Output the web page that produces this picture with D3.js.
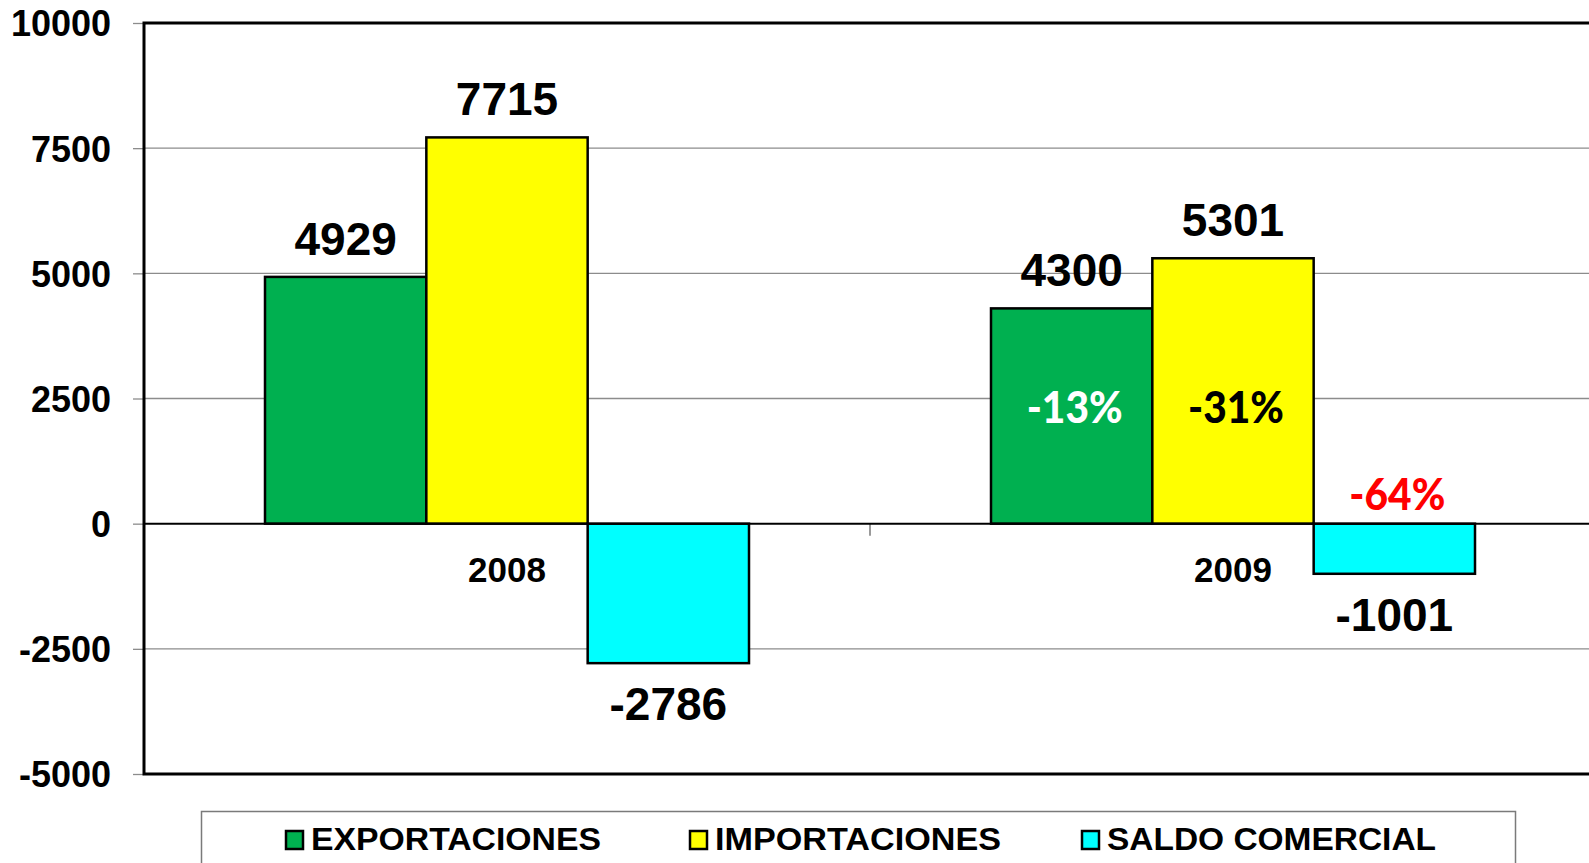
<!DOCTYPE html>
<html>
<head>
<meta charset="utf-8">
<script src="https://cdn.jsdelivr.net/npm/d3@7"></script>
<style>
  body { margin: 0; background: #fff; overflow: hidden; }
  svg { display: block; }
</style>
</head>
<body>
<svg id="chart"></svg>
<script>
var categories = ['2008', '2009'];
var series = ['EXPORTACIONES', 'IMPORTACIONES', 'SALDO COMERCIAL'];
var exportaciones = [4929, 4300];
var importaciones = [7715, 5301];
var saldo = [-2786, -1001];
var variacion2009 = ['-13%', '-31%', '-64%'];
var yTicks = [-5000, -2500, 0, 2500, 5000, 7500, 10000];

var colors = ['#00B050', '#FFFF00', '#00FFFF'];
var values = [exportaciones, importaciones, saldo];

var width = 1589, height = 863;
var plot = { left: 144, right: 1596, top: 23, bottom: 774 };

var svg = d3.select('#chart')
  .attr('width', width)
  .attr('height', height);

var x0 = d3.scaleBand()
  .domain(categories)
  .range([plot.left, plot.right]);

// gap width 150% like the original
var x1 = d3.scaleBand()
  .domain(series)
  .range([0, x0.bandwidth()])
  .paddingOuter(0.75);

var y = d3.scaleLinear()
  .domain([-5000, 10000])
  .range([plot.bottom, plot.top]);

// gridlines
svg.append('g')
  .selectAll('line')
  .data(yTicks.filter(function (d) { return d != 0 && d != -5000 && d != 10000; }))
  .enter().append('line')
  .attr('x1', plot.left)
  .attr('x2', width)
  .attr('y1', function (d) { return y(d); })
  .attr('y2', function (d) { return y(d); })
  .attr('stroke', '#8c8c8c')
  .attr('stroke-width', 1.3);

// y axis, ticks on the outside
var yAxis = d3.axisLeft(y)
  .tickValues(yTicks)
  .tickSize(11)
  .tickPadding(22)
  .tickFormat(function (d) { return String(d); });

var gy = svg.append('g')
  .attr('transform', 'translate(' + plot.left + ',0)')
  .call(yAxis);
gy.select('.domain').remove();
gy.selectAll('.tick line').attr('stroke', '#8c8c8c').attr('stroke-width', 1.3);
gy.selectAll('.tick text')
  .attr('font-family', 'Liberation Sans, Arial, sans-serif')
  .attr('font-weight', 'bold')
  .attr('font-size', 36)
  .attr('fill', '#000')
  .attr('dy', '0.36em');

// category separator tick
svg.append('line')
  .attr('x1', x0('2009'))
  .attr('x2', x0('2009'))
  .attr('y1', y(0))
  .attr('y2', y(0) + 12)
  .attr('stroke', '#9a9a9a')
  .attr('stroke-width', 2);

// bars
var groups = svg.selectAll('g.cat')
  .data(categories)
  .enter().append('g')
  .attr('class', 'cat')
  .attr('transform', function (d) { return 'translate(' + x0(d) + ',0)'; });

groups.selectAll('rect')
  .data(function (d, i) {
    return series.map(function (s, j) { return { s: s, v: values[j][i], c: colors[j] }; });
  })
  .enter().append('rect')
  .attr('x', function (d) { return x1(d.s); })
  .attr('width', x1.bandwidth())
  .attr('y', function (d) { return y(Math.max(0, d.v)); })
  .attr('height', function (d) { return Math.abs(y(d.v) - y(0)); })
  .attr('fill', function (d) { return d.c; })
  .attr('stroke', '#000')
  .attr('stroke-width', 2.5);

// zero line
svg.append('line')
  .attr('x1', plot.left)
  .attr('x2', width)
  .attr('y1', y(0))
  .attr('y2', y(0))
  .attr('stroke', '#000')
  .attr('stroke-width', 2);

// frame: left, top, bottom
svg.append('path')
  .attr('d', 'M' + width + ',' + plot.top + 'H' + plot.left + 'V' + plot.bottom + 'H' + width)
  .attr('fill', 'none')
  .attr('stroke', '#000')
  .attr('stroke-width', 3);

// value labels
groups.selectAll('text.val')
  .data(function (d, i) {
    return series.map(function (s, j) { return { s: s, v: values[j][i] }; });
  })
  .enter().append('text')
  .attr('class', 'val')
  .attr('x', function (d) { return x1(d.s) + x1.bandwidth() / 2; })
  .attr('y', function (d) { return d.v >= 0 ? y(d.v) - 22 : y(d.v) + 57; })
  .attr('text-anchor', 'middle')
  .attr('font-family', 'Liberation Sans, Arial, sans-serif')
  .attr('font-weight', 'bold')
  .attr('font-size', 46)
  .text(function (d) { return d.v; });

// category labels (sit under the zero line)
groups.append('text')
  .attr('x', x0.bandwidth() / 2)
  .attr('y', y(0) + 58)
  .attr('text-anchor', 'middle')
  .attr('font-family', 'Liberation Sans, Arial, sans-serif')
  .attr('font-weight', 'bold')
  .attr('font-size', 35)
  .text(function (d) { return d; });

// variation 2009 vs 2008
var pctColor = ['#ffffff', '#000000', '#ff0000'];
var g2009 = groups.filter(function (d) { return d == '2009'; });
g2009.selectAll('text.pct')
  .data(variacion2009)
  .enter().append('text')
  .attr('class', 'pct')
  .attr('x', function (d, j) { return x1(series[j]) + x1.bandwidth() / 2 + 3; })
  .attr('y', function (d, j) { return j < 2 ? y(2020) : y(0) - 14; })
  .attr('text-anchor', 'middle')
  .attr('font-family', 'Lato, Open Sans, sans-serif')
  .attr('font-weight', 900)
  .attr('font-size', 43)
  .attr('textLength', 96)
  .attr('lengthAdjust', 'spacingAndGlyphs')
  .attr('fill', function (d, j) { return pctColor[j]; })
  .text(function (d) { return d; });

// legend
var legend = svg.append('g');
legend.append('rect')
  .attr('x', 201.5)
  .attr('y', 811.5)
  .attr('width', 1314)
  .attr('height', 100)
  .attr('fill', '#fff')
  .attr('stroke', '#7a7a7a')
  .attr('stroke-width', 1.5);

var legX = [286, 690, 1082];
var legW = [290, 286, 329];
var items = legend.selectAll('g.item')
  .data(series)
  .enter().append('g')
  .attr('class', 'item')
  .attr('transform', function (d, i) { return 'translate(' + legX[i] + ',0)'; });

items.append('rect')
  .attr('x', 0)
  .attr('y', 831)
  .attr('width', 17)
  .attr('height', 18)
  .attr('fill', function (d, i) { return colors[i]; })
  .attr('stroke', '#000')
  .attr('stroke-width', 2.5);

items.append('text')
  .attr('x', 25)
  .attr('y', 850)
  .attr('font-family', 'Liberation Sans, Arial, sans-serif')
  .attr('font-weight', 'bold')
  .attr('font-size', 32)
  .attr('textLength', function (d, i) { return legW[i]; })
  .attr('lengthAdjust', 'spacingAndGlyphs')
  .text(function (d) { return d; });
</script>
</body>
</html>
